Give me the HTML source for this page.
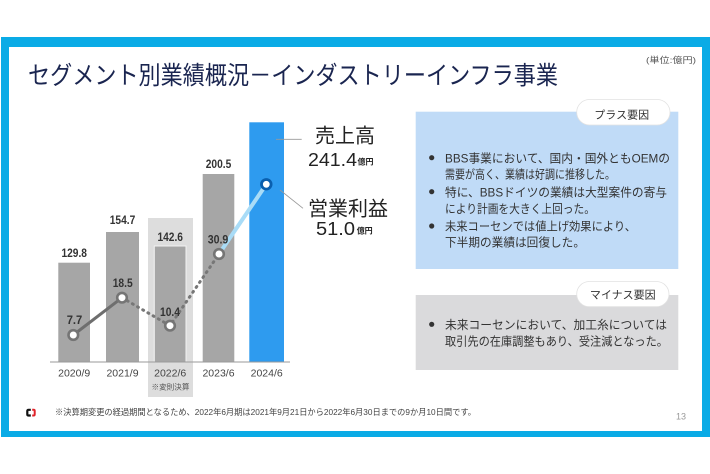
<!DOCTYPE html>
<html lang="ja">
<head>
<meta charset="utf-8">
<title>Chart</title>
<style>
html,body{margin:0;padding:0;background:#fff;width:710px;height:474px;overflow:hidden;}
svg{display:block;}
text{font-family:"Liberation Sans","Noto Sans CJK JP",sans-serif;}
.jp{font-family:"Liberation Sans","Noto Sans CJK JP",sans-serif;}
</style>
</head>
<body>
<svg width="710" height="474" viewBox="0 0 710 474" xmlns="http://www.w3.org/2000/svg">
<rect x="0" y="0" width="710" height="474" fill="#ffffff"/>
<rect x="1" y="37" width="709" height="400" fill="#0aabe6"/>
<rect x="9" y="47" width="693" height="384" fill="#ffffff"/>

<text class="jp" x="28" y="84" font-size="25" fill="#1a2550" textLength="530" lengthAdjust="spacingAndGlyphs">セグメント別業績概況－インダストリーインフラ事業</text>
<text class="jp" x="646" y="63" font-size="8.5" fill="#555555" textLength="50" lengthAdjust="spacingAndGlyphs">(単位:億円)</text>

<rect x="148" y="218" width="45" height="179" fill="#dddddd"/>
<rect x="58.3" y="262.7" width="31.7" height="99.3" fill="#a6a6a6"/>
<rect x="106" y="232" width="33" height="130" fill="#a6a6a6"/>
<rect x="154.3" y="246" width="31.7" height="116" fill="#a6a6a6" stroke="#f2f2f2" stroke-width="1"/>
<rect x="202.7" y="174" width="31.6" height="188" fill="#a6a6a6"/>
<rect x="249.3" y="122.3" width="34.7" height="239.7" fill="#2e9bef"/>
<line x1="50" y1="362" x2="290" y2="362" stroke="#9a9a9a" stroke-width="1"/>

<text x="74.2" y="256.8" font-size="12" font-weight="bold" fill="#333333" text-anchor="middle" textLength="25.5" lengthAdjust="spacingAndGlyphs">129.8</text>
<text x="122.5" y="224.1" font-size="12" font-weight="bold" fill="#333333" text-anchor="middle" textLength="25.5" lengthAdjust="spacingAndGlyphs">154.7</text>
<text x="170.2" y="240.8" font-size="12" font-weight="bold" fill="#333333" text-anchor="middle" textLength="25.5" lengthAdjust="spacingAndGlyphs">142.6</text>
<text x="218.5" y="168.1" font-size="12" font-weight="bold" fill="#333333" text-anchor="middle" textLength="25.5" lengthAdjust="spacingAndGlyphs">200.5</text>

<line x1="73.3" y1="335" x2="122" y2="297.7" stroke="#6e6e6e" stroke-width="3"/>
<polyline points="122,297.7 170,325.7 219,254" fill="none" stroke="#777777" stroke-width="3" stroke-dasharray="1 5" stroke-linecap="round"/>
<line x1="219" y1="254" x2="266.3" y2="184.3" stroke="#a9dcf7" stroke-width="4"/>
<circle cx="73.3" cy="335" r="4.8" fill="#ffffff" stroke="#757575" stroke-width="2.6"/>
<circle cx="122" cy="297.7" r="4.8" fill="#ffffff" stroke="#757575" stroke-width="2.6"/>
<circle cx="170" cy="325.7" r="4.8" fill="#ffffff" stroke="#757575" stroke-width="2.6"/>
<circle cx="219" cy="254" r="4.8" fill="#ffffff" stroke="#757575" stroke-width="2.6"/>
<circle cx="266.3" cy="184.3" r="4.8" fill="#ffffff" stroke="#0a5fae" stroke-width="2.8"/>

<text x="74.5" y="324.1" font-size="12" font-weight="bold" fill="#333333" text-anchor="middle" textLength="15.6" lengthAdjust="spacingAndGlyphs">7.7</text>
<text x="122.7" y="287.1" font-size="12" font-weight="bold" fill="#333333" text-anchor="middle" textLength="20" lengthAdjust="spacingAndGlyphs">18.5</text>
<text x="170" y="315.8" font-size="12" font-weight="bold" fill="#333333" text-anchor="middle" textLength="20" lengthAdjust="spacingAndGlyphs">10.4</text>
<text x="218" y="243.4" font-size="12" font-weight="bold" fill="#333333" text-anchor="middle" textLength="20.6" lengthAdjust="spacingAndGlyphs">30.9</text>

<text x="74.2" y="376.3" font-size="10.5" fill="#444444" text-anchor="middle">2020/9</text>
<text x="122.5" y="376.3" font-size="10.5" fill="#444444" text-anchor="middle">2021/9</text>
<text x="170.2" y="376.3" font-size="10.5" fill="#444444" text-anchor="middle">2022/6</text>
<text x="218.5" y="376.3" font-size="10.5" fill="#444444" text-anchor="middle">2023/6</text>
<text x="266.7" y="376.3" font-size="10.5" fill="#444444" text-anchor="middle">2024/6</text>
<text class="jp" x="151.5" y="389.6" font-size="7.6" fill="#555555">※変則決算</text>

<line x1="276" y1="139.3" x2="301.7" y2="139.3" stroke="#999999" stroke-width="0.8"/>
<line x1="280" y1="190" x2="303" y2="208.3" stroke="#999999" stroke-width="0.8"/>
<text class="jp" x="315" y="142.6" font-size="20" fill="#222222">売上高</text>
<text x="308" y="165.8" font-size="18" fill="#222222" textLength="49" lengthAdjust="spacingAndGlyphs">241.4</text>
<text class="jp" x="357.5" y="164.6" font-size="8" font-weight="bold" fill="#222222">億円</text>
<text class="jp" x="308" y="215.6" font-size="20" fill="#222222">営業利益</text>
<text x="316" y="234.8" font-size="18" fill="#222222" textLength="39" lengthAdjust="spacingAndGlyphs">51.0</text>
<text class="jp" x="356.7" y="233.6" font-size="8" font-weight="bold" fill="#222222">億円</text>

<rect x="415.7" y="111.7" width="262.6" height="157.3" fill="#c0dbf7"/>
<rect x="576.7" y="99.5" width="93.3" height="25.5" rx="12.75" fill="#ffffff" stroke="#e2e2e2" stroke-width="0.8"/>
<text class="jp" x="621.7" y="118.6" font-size="11" fill="#333333" text-anchor="middle">プラス要因</text>
<circle cx="431.7" cy="157.7" r="2.6" fill="#333333"/>
<circle cx="431.7" cy="191.7" r="2.6" fill="#333333"/>
<circle cx="431.7" cy="226" r="2.6" fill="#333333"/>
<text class="jp" x="445" y="162.3" font-size="12" fill="#333333" textLength="225" lengthAdjust="spacingAndGlyphs">BBS事業において、国内・国外ともOEMの</text>
<text class="jp" x="445" y="178.6" font-size="12" fill="#333333" textLength="170" lengthAdjust="spacingAndGlyphs">需要が高く、業績は好調に推移した。</text>
<text class="jp" x="445" y="196.3" font-size="12" fill="#333333" textLength="222" lengthAdjust="spacingAndGlyphs">特に、BBSドイツの業績は大型案件の寄与</text>
<text class="jp" x="445" y="212.9" font-size="12" fill="#333333" textLength="150" lengthAdjust="spacingAndGlyphs">により計画を大きく上回った。</text>
<text class="jp" x="445" y="230.6" font-size="12" fill="#333333" textLength="191" lengthAdjust="spacingAndGlyphs">未来コーセンでは値上げ効果により、</text>
<text class="jp" x="445" y="246.6" font-size="12" fill="#333333" textLength="140" lengthAdjust="spacingAndGlyphs">下半期の業績は回復した。</text>

<rect x="415.7" y="295" width="262.6" height="75" fill="#dadadc"/>
<rect x="576.7" y="281.5" width="92.3" height="25.2" rx="12.6" fill="#ffffff" stroke="#e2e2e2" stroke-width="0.8"/>
<text class="jp" x="622.8" y="298.6" font-size="11" fill="#333333" text-anchor="middle">マイナス要因</text>
<circle cx="431.7" cy="324.3" r="2.6" fill="#333333"/>
<text class="jp" x="445" y="328.9" font-size="12" fill="#333333" textLength="222" lengthAdjust="spacingAndGlyphs">未来コーセンにおいて、加工糸については</text>
<text class="jp" x="445" y="345.6" font-size="12" fill="#333333" textLength="223" lengthAdjust="spacingAndGlyphs">取引先の在庫調整もあり、受注減となった。</text>

<path d="M30.8,409.8 L28.6,409.8 Q27.3,409.8 27.3,411.1 L27.3,414.2 Q27.3,415.5 28.6,415.5 L30.8,415.5" fill="none" stroke="#111111" stroke-width="2.2"/>
<path d="M32.2,409.8 L33.6,409.8 Q34.7,409.8 34.7,410.9 L34.7,414.4 Q34.7,415.5 33.6,415.5 L32.2,415.5" fill="none" stroke="#e0232a" stroke-width="2"/>
<text class="jp" x="55" y="414.8" font-size="8.4" fill="#444444" textLength="421" lengthAdjust="spacingAndGlyphs">※決算期変更の経過期間となるため、2022年6月期は2021年9月21日から2022年6月30日までの9か月10日間です。</text>
<text x="676" y="419.7" font-size="9" fill="#999999">13</text>
</svg>
</body>
</html>
